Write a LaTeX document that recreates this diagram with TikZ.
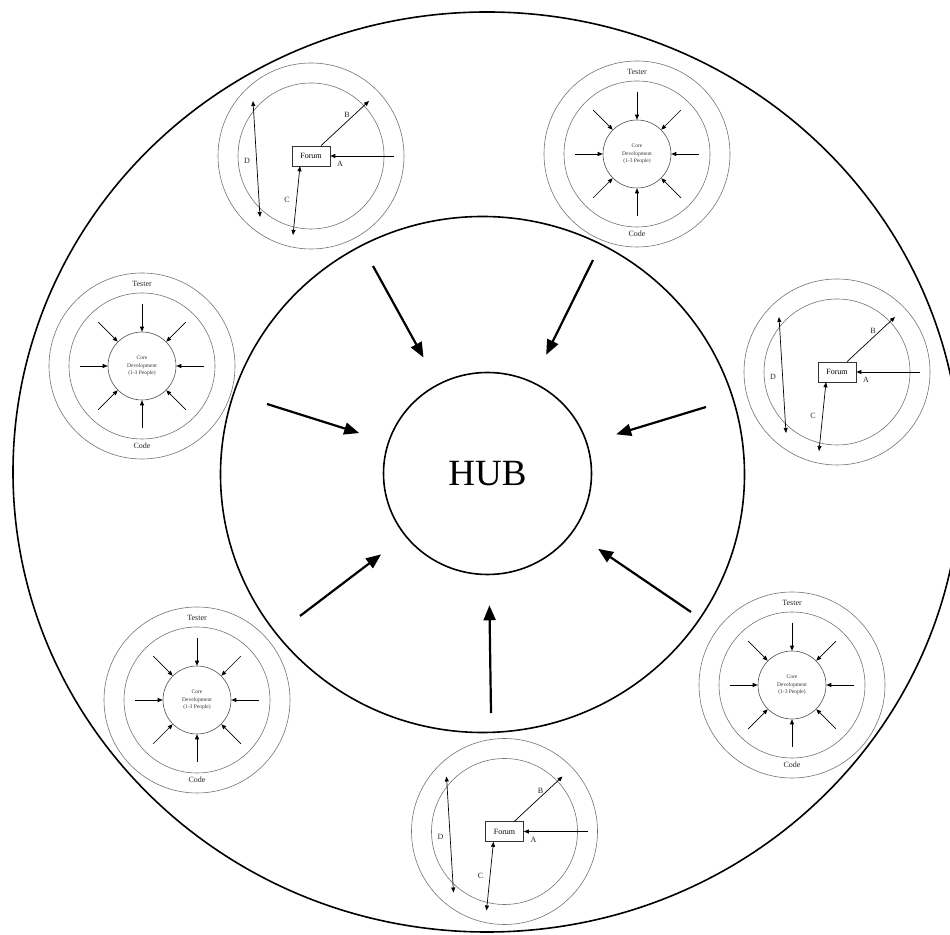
\documentclass[tikz,border=0pt]{standalone}
\usepackage{fontspec}
\setmainfont{Liberation Serif}
\usetikzlibrary{shapes.geometric, arrows.meta}

\begin{document}
\begin{tikzpicture}[
    x=1pt, y=1pt,
    >={Triangle[length=5pt,width=4pt]},
    % Styles
    bigring/.style={draw, ellipse, line width=1.6pt, inner sep=0pt},
    ring/.style={draw=black!55, circle, line width=0.6pt, inner sep=0pt},
    corering/.style={draw=black!70, circle, line width=0.6pt, inner sep=0pt, minimum size=68pt, align=center, font=\fontsize{5.5}{7.6}\selectfont, text=black!80},
    forumbox/.style={draw=black!80, rectangle, line width=0.6pt, minimum width=38pt, minimum height=20pt, inner sep=0pt, font=\fontsize{8}{9}\selectfont},
    tag/.style={font=\fontsize{8}{9}\selectfont, text=black!85, inner sep=0pt},
    link/.style={->, line width=0.7pt},
    twoway/.style={<->, line width=0.7pt},
    feed/.style={-{Triangle[length=15pt,width=12pt]}, line width=2.2pt, shorten >=30pt},
    % Team with a core group
    core/.pic={
        \node[ring, minimum size=186pt] (-outer) {};
        \node[ring, minimum size=146pt] (-inner) {};
        \node[corering] (-core) {Core\\Development\\(1-3 People)};
        \node[tag] (-tester) at (0,82) {Tester};
        \node[tag] (-code) at (0,-80) {Code};
        \foreach \a in {0,45,...,315}
            \draw[link] (\a:62) -- (-core);
    },
    % Team with a forum
    forum/.pic={
        \node[ring, minimum size=186pt] (-outer) {};
        \node[ring, minimum size=146pt] (-inner) {};
        \node[forumbox] (-box) {Forum};
        \coordinate (-a) at (83,0);
        \coordinate (-b) at (58,55);
        \coordinate (-c) at (-18,-79);
        \coordinate (-dtop) at (-58,55);
        \coordinate (-dbot) at (-51,-61);
        \draw[link] (-a) -- (-box.east);
        \draw[link] ([xshift=10pt]-box.north) -- (-b);
        \draw[twoway] ([xshift=-11pt]-box.south) -- (-c);
        \draw[twoway] (-dtop) -- (-dbot);
        \node[tag] (-la) at (29,-8) {A};
        \node[tag] (-lb) at (36,41) {B};
        \node[tag] (-lc) at (-24,-44) {C};
        \node[tag] (-ld) at (-64,-5) {D};
    }
]
\useasboundingbox (0,0) rectangle (950,934);
\clip (0,0) rectangle (950,934);

% 1. Rings round the hub
\node[bigring, minimum width=948pt, minimum height=920pt] (rim) at (487,462) {};
\node[bigring, minimum width=524pt, minimum height=516pt] (middle) at (482.5,459.5) {};
\node[bigring, minimum width=208pt, minimum height=202pt, font=\fontsize{37}{40}\selectfont] (hub) at (487.5,460.5) {HUB};

% 2. Teams
\pic (tlforum) at (311,778) {forum};
\pic (trcore) at (637,780) {core};
\pic (lcore) at (142,568) {core};
\pic (rforum) at (837,562) {forum};
\pic (blcore) at (197,234) {core};
\pic (brcore) at (792,249) {core};
\pic (bforum) at (504.5,102.5) {forum};

% 3. Feeds into the hub
\coordinate (in1) at (373,668);
\coordinate (in2) at (593,674);
\coordinate (in3) at (267,530);
\coordinate (in4) at (706,527);
\coordinate (in5) at (300,318);
\coordinate (in6) at (491,221);
\coordinate (in7) at (691,322);
\foreach \i in {1,...,7}
    \draw[feed] (in\i) -- (hub);

\end{tikzpicture}
\end{document}
